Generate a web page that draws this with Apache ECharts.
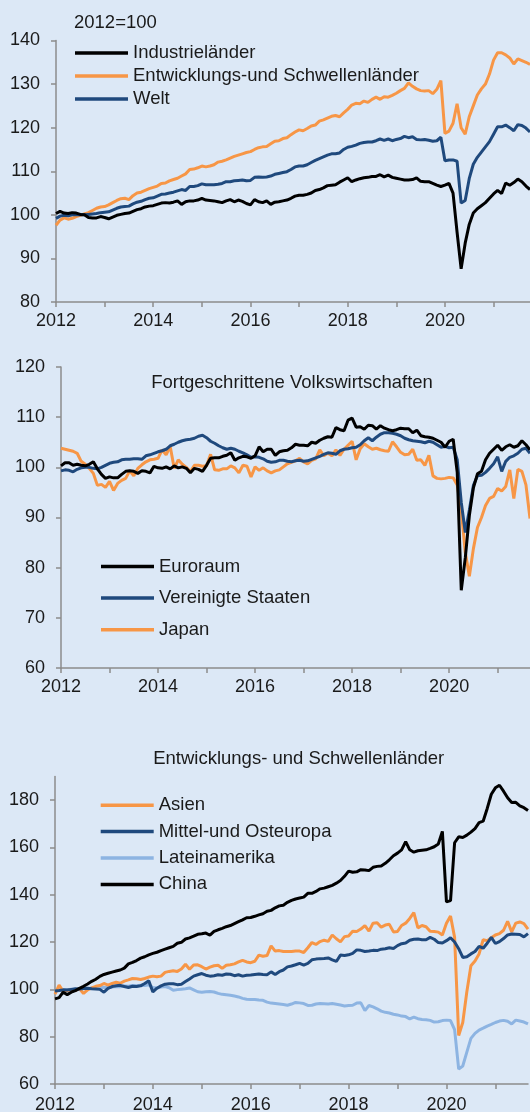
<!DOCTYPE html>
<html>
<head>
<meta charset="utf-8">
<script src="https://cdn.jsdelivr.net/npm/echarts@6.0.0/dist/echarts.min.js"></script>
<style>
  html, body { margin: 0; padding: 0; background: #dce8f6; }
  #chart { width: 530px; height: 1112px; }
</style>
</head>
<body>
<div id="chart"></div>
<script>
// Monatsachse Jan 2012 .. Okt 2021
const months = [];
for (let y = 2012; y <= 2021; y++) {
  for (let m = 1; m <= 12; m++) months.push(y + '-' + (m < 10 ? '0' + m : m));
}
const months1 = months.slice(0, 118);   // oberes Panel bis Okt 2021
const months23 = months.slice(0, 117);  // Panels 2 und 3 bis Sep 2021

// Panel 1: 2012=100
const industrie = [
  100.3,100.8,100.4,100.3,100.5,100.4,100.1,100.0,99.4,99.3,99.3,99.6,
  99.4,99.1,99.5,99.9,100.1,100.3,100.4,100.8,101.2,101.4,101.8,102.0,
  102.1,102.4,102.7,102.8,102.7,102.9,103.2,102.4,103.0,103.2,103.2,103.4,
  103.8,103.4,103.3,103.2,103.0,102.8,103.2,103.5,103.0,103.4,103.1,102.6,
  102.3,103.5,103.0,102.8,103.2,102.4,102.9,103.0,103.2,103.4,103.8,104.3,
  104.5,104.5,104.7,105.0,105.6,105.8,106.2,106.7,106.8,106.9,107.5,108.0,
  108.5,107.6,108.0,108.3,108.5,108.6,108.8,108.8,109.2,108.7,109.1,108.6,
  108.4,108.2,108.0,108.0,108.1,108.5,107.7,107.6,107.6,107.2,106.8,106.5,
  106.8,107.2,105.0,96.0,87.6,93.5,97.8,100.4,101.4,102.1,102.8,103.8,
  104.8,105.6,104.9,107.3,106.8,107.4,108.2,107.6,106.6,105.8
];
const schwellen = [
  97.6,98.8,99.3,99.0,99.2,99.6,99.9,100.2,100.5,101.0,101.5,101.8,
  101.9,102.3,102.8,103.3,103.7,103.8,103.5,104.4,105.0,105.2,105.6,106.0,
  106.3,106.6,107.2,107.3,107.8,108.1,108.4,108.9,109.4,110.4,110.5,110.8,
  111.2,111.0,111.2,111.5,112.1,112.3,112.6,113.0,113.4,113.7,114.0,114.3,
  114.5,115.0,115.4,115.6,115.7,116.3,116.9,117.0,117.5,117.7,118.4,119.0,
  119.5,119.3,119.8,120.4,120.6,121.5,121.8,122.2,122.6,122.8,122.5,123.4,
  124.2,125.2,125.6,125.5,126.1,125.8,126.5,127.0,126.5,127.1,127.0,127.4,
  127.9,128.5,129.0,130.3,129.5,128.9,128.5,128.4,128.5,127.8,128.8,130.8,
  118.7,119.2,121.0,125.5,120.0,118.5,122.5,125.0,127.5,128.9,130.0,132.3,
  135.5,137.2,137.2,136.7,136.0,134.6,135.8,135.4,135.0,134.5
];
const welt = [
  99.2,99.7,99.9,99.8,100.0,100.0,100.1,100.0,100.1,100.2,100.3,100.5,
  100.6,100.7,101.1,101.5,101.8,101.9,102.0,102.5,102.9,103.1,103.5,103.8,
  103.9,104.3,104.7,104.8,105.0,105.2,105.5,105.8,105.6,106.5,106.5,106.7,
  107.1,106.9,106.9,106.9,107.0,107.2,107.6,107.6,107.8,107.9,108.0,107.8,
  107.9,108.6,108.7,108.6,108.7,108.9,109.3,109.5,109.7,109.9,110.4,111.0,
  111.2,111.2,111.5,112.0,112.5,112.9,113.3,113.7,114.0,114.0,114.2,115.0,
  115.5,115.7,116.0,116.4,116.6,116.7,116.7,117.0,117.4,117.1,117.4,117.0,
  117.3,117.5,118.0,117.7,117.9,117.3,117.2,117.3,117.1,116.9,117.0,117.8,
  112.4,112.6,112.6,112.3,102.7,103.3,108.3,111.6,113.2,114.4,115.6,116.8,
  118.5,120.2,120.2,120.6,120.0,119.3,120.7,120.5,119.9,119.0
];

// Panel 2: Fortgeschrittene Volkswirtschaften
const euroraum = [
  100.3,100.9,100.9,100.4,100.6,100.4,100.3,100.6,101.1,99.7,98.6,97.8,
  98.1,97.9,97.9,98.6,99.2,99.3,99.2,98.8,99.3,99.2,98.9,100.2,
  99.9,99.8,100.1,99.7,100.3,99.9,100.1,99.8,98.9,99.8,99.6,99.2,
  100.4,101.8,101.9,101.9,102.2,102.4,102.9,101.4,101.9,102.2,102.1,101.8,
  102.3,104.1,103.1,103.6,103.6,102.4,103.1,103.3,103.4,103.9,104.6,104.4,
  104.4,104.3,105.0,104.8,105.4,105.8,106.1,106.0,107.9,107.5,107.3,109.4,
  109.8,108.0,108.1,107.6,108.4,108.3,107.6,108.3,107.8,107.5,107.3,107.5,
  107.8,107.7,107.7,106.9,107.4,106.3,106.1,106.0,105.8,105.4,105.0,104.0,
  105.2,105.6,99.0,75.5,82.0,90.4,95.9,98.7,99.2,101.5,102.8,103.6,
  104.4,103.4,104.1,104.5,104.0,104.3,105.3,104.5,103.5
];
const usa = [
  99.3,99.5,99.4,99.1,99.6,99.9,100.0,100.0,99.8,99.7,100.0,100.4,
  100.8,101.0,101.1,101.5,101.6,101.6,101.7,101.7,101.6,102.3,102.5,102.8,
  103.1,103.3,103.6,104.3,104.6,105.0,105.3,105.5,105.6,105.8,106.2,106.4,
  105.9,105.2,104.8,104.3,103.9,103.6,103.8,103.6,103.2,102.9,102.5,102.0,
  102.1,102.0,101.7,101.2,101.0,101.1,101.4,101.4,101.2,101.1,101.3,101.4,
  101.2,101.3,101.6,101.9,102.2,102.6,102.9,102.8,102.6,103.3,103.6,103.7,
  103.9,104.0,104.5,105.3,105.9,105.3,106.0,106.6,106.9,106.9,106.8,106.6,
  106.3,105.8,105.5,105.3,105.2,105.1,104.9,105.2,105.0,104.5,104.0,104.2,
  103.9,104.0,101.5,93.0,87.0,91.5,96.4,98.3,98.4,99.0,99.8,100.7,
  102.1,99.2,101.2,102.0,102.3,102.8,103.6,103.8,102.8
];
const japan = [
  103.8,103.6,103.4,103.2,102.8,101.2,100.6,99.8,98.8,96.4,96.6,96.0,
  97.2,95.4,96.8,97.4,97.8,99.3,98.3,99.8,100.5,101.1,101.5,101.6,
  101.8,103.5,102.5,104.2,99.8,101.5,100.6,100.0,99.1,100.4,100.4,100.2,
  100.3,102.6,99.5,99.4,99.7,99.7,100.3,99.9,98.9,100.4,100.2,98.1,
  100.1,99.4,99.9,99.3,98.9,99.3,99.5,100.1,100.7,101.0,101.3,101.8,
  101.1,100.7,101.4,101.7,103.5,102.3,102.8,102.3,103.5,102.4,103.6,104.4,
  105.2,101.5,103.7,104.7,104.1,103.6,103.8,103.5,103.3,103.2,105.1,104.1,
  103.0,102.5,102.6,103.6,101.4,101.5,100.4,102.4,98.3,97.8,97.7,97.8,
  98.0,97.9,96.5,91.5,83.0,78.3,83.8,88.0,90.0,92.4,93.8,94.2,
  95.8,95.3,96.2,99.5,93.8,99.6,99.2,96.5,89.8
];

// Panel 3: Entwicklungs- und Schwellenländer
const asien = [
  98.0,101.8,99.2,99.5,99.8,99.6,100.3,98.3,99.8,100.6,101.3,101.6,
  102.5,101.8,102.5,103.0,102.6,103.5,104.0,104.6,104.5,104.2,104.6,105.2,
  105.6,105.3,105.6,107.2,107.6,107.9,107.6,108.6,110.6,108.5,110.3,110.4,
  109.6,108.6,109.4,110.0,110.2,108.9,110.2,110.4,110.8,111.6,112.3,111.6,
  111.3,111.9,114.5,114.0,114.3,118.4,116.2,116.4,116.0,116.0,116.0,116.2,
  116.2,115.6,117.6,119.8,119.0,120.2,120.8,120.3,123.0,121.4,120.1,122.3,
  122.6,124.6,124.5,125.5,127.0,124.6,128.0,128.2,126.3,127.2,127.5,124.3,
  124.5,127.0,128.0,130.0,132.5,126.0,127.0,126.5,124.6,124.5,124.2,123.0,
  128.0,131.0,122.0,80.5,86.0,99.0,110.0,112.0,115.0,121.0,120.6,121.8,
  123.0,123.6,125.0,128.8,124.3,128.0,128.5,127.8,125.5
];
const osteuropa = [
  99.3,99.5,99.8,99.7,100.0,100.3,100.2,100.4,100.5,100.3,100.2,100.0,
  98.8,100.4,101.2,101.5,101.7,101.2,100.8,101.3,101.2,101.5,102.5,103.6,
  98.9,100.5,101.5,102.2,102.4,102.4,102.0,102.2,103.3,104.4,105.6,106.2,
  106.7,106.0,105.6,105.8,106.2,106.0,106.5,106.4,105.8,106.2,105.6,106.0,
  106.1,106.3,106.5,106.3,106.2,107.4,106.3,107.5,108.2,109.5,109.9,110.4,
  111.0,110.3,111.0,112.5,112.8,113.0,113.1,113.3,112.5,111.8,114.5,114.3,
  114.6,115.2,116.7,116.5,116.0,116.2,116.5,116.4,117.0,117.2,117.6,117.3,
  118.5,119.3,119.6,120.8,121.2,121.3,121.0,121.0,122.0,121.2,119.8,119.6,
  120.6,121.8,120.0,117.2,113.5,113.8,115.0,116.0,118.2,117.4,119.5,122.0,
  119.4,120.2,121.5,123.0,123.4,123.3,123.2,122.2,123.6
];
const lateinamerika = [
  99.4,99.7,99.6,99.9,100.1,99.9,100.2,100.4,100.3,100.6,100.5,100.8,
  100.9,100.7,101.0,101.2,101.1,101.4,101.3,101.6,101.5,101.8,101.6,101.9,
  100.8,100.6,101.0,101.2,100.7,99.6,99.9,100.1,100.3,100.6,99.8,99.0,
  98.8,99.0,99.1,98.9,98.3,97.9,97.7,97.5,97.2,96.8,96.2,95.8,
  95.7,95.7,95.5,95.4,94.6,94.2,94.0,93.8,93.6,93.3,93.8,94.5,
  94.3,94.0,93.2,93.3,93.8,94.0,93.9,93.8,94.0,93.7,93.4,93.0,
  93.2,93.3,94.2,94.3,91.0,93.2,92.6,91.8,90.8,90.3,90.0,89.5,
  89.2,88.7,88.5,87.5,88.3,87.6,87.3,87.2,86.9,86.2,86.3,86.8,
  87.0,86.8,83.0,66.3,67.6,73.5,79.3,81.4,82.8,83.6,84.5,85.2,
  86.0,86.6,86.9,86.5,85.4,87.0,86.6,86.2,85.4
];
const china = [
  96.0,96.5,98.8,97.8,98.8,99.5,100.4,101.3,102.3,103.4,104.3,105.5,
  106.3,106.8,107.3,107.8,108.2,109.0,110.8,111.4,112.2,113.2,113.8,114.6,
  115.2,115.7,116.4,117.0,117.6,118.2,119.5,119.9,121.3,121.8,122.5,123.3,
  123.5,123.8,122.9,124.5,125.2,125.8,126.5,127.0,127.8,128.6,129.4,130.3,
  130.4,130.9,131.5,132.0,133.0,133.4,134.5,135.3,135.6,136.8,137.6,138.2,
  138.6,139.0,140.6,140.6,141.4,142.5,142.8,143.4,144.0,144.9,146.0,147.8,
  150.0,149.5,149.7,150.6,150.5,150.2,151.6,152.0,152.2,153.3,154.8,156.5,
  157.6,159.0,162.5,159.0,158.0,158.6,158.8,159.0,159.6,160.3,161.5,166.8,
  137.0,137.5,162.0,164.5,164.2,165.2,166.5,168.0,170.5,171.1,176.5,182.5,
  185.2,186.3,183.8,181.0,179.0,179.1,177.6,176.8,175.6
];

const yTicks3 = [60, 80, 100, 120, 140, 160, 180];

const BLACK = '#000000';
const ORANGE = '#f79646';
const DARKBLUE = '#1f497d';
const LIGHTBLUE = '#8db4e2';
const AXIS = '#8c8c8c';
const TEXT = '#1a1a1a';
const FONT = '"Liberation Sans", Arial, sans-serif';

function xAxis(gridIndex, data, margin) {
  return {
    type: 'category', gridIndex: gridIndex, data: data, boundaryGap: false,
    axisLine: { lineStyle: { color: AXIS, width: 1.5 } },
    axisTick: { show: true, interval: 11, length: 5, lineStyle: { color: AXIS, width: 1.5 } },
    axisLabel: {
      interval: 23, margin: margin, color: TEXT, fontSize: 18, fontFamily: FONT,
      formatter: function (v) { return v.slice(0, 4); }
    },
    splitLine: { show: false }
  };
}

function yAxis(gridIndex, min, max, interval) {
  return {
    type: 'value', gridIndex: gridIndex, min: min, max: max, interval: interval,
    axisLine: { show: true, lineStyle: { color: AXIS, width: 1.5 } },
    axisTick: { show: true, length: 5, lineStyle: { color: AXIS, width: 1.5 } },
    axisLabel: { margin: 16, color: TEXT, fontSize: 18, fontFamily: FONT },
    splitLine: { show: false }
  };
}

function line(name, data, color, idx) {
  return {
    name: name, type: 'line', xAxisIndex: idx, yAxisIndex: idx, data: data,
    showSymbol: false, symbol: 'none', animation: false,
    lineStyle: { color: color, width: 3 }, itemStyle: { color: color }
  };
}

function legend(left, top, rowHeight, names) {
  return {
    orient: 'vertical', left: left, top: top, padding: 0, itemGap: 0,
    itemWidth: 53, itemHeight: 3.5, icon: 'rect', selectedMode: false,
    textStyle: { color: TEXT, fontSize: 18.5, fontFamily: FONT, lineHeight: rowHeight },
    data: names
  };
}

function label(text, x, y, align) {
  return {
    type: 'text', x: x, y: y, silent: true,
    style: {
      text: text, fill: TEXT, fontSize: 18.5, fontFamily: FONT,
      align: align, verticalAlign: 'middle', textAlign: align, textVerticalAlign: 'middle'
    }
  };
}

var y3 = yAxis(2, 60, 190, 20);
y3.axisLabel.customValues = yTicks3;
y3.axisTick.customValues = yTicks3;

var myChart = echarts.init(document.getElementById('chart'));
myChart.setOption({
  backgroundColor: '#dce8f6',
  animation: false,
  grid: [
    { left: 56, right: 0, top: 40.5, height: 261.5, containLabel: false, outerBoundsMode: 'none' },
    { left: 61, right: 0, top: 367, height: 301, containLabel: false, outerBoundsMode: 'none' },
    { left: 55, right: 2, top: 776.5, height: 307.5, containLabel: false, outerBoundsMode: 'none' }
  ],
  xAxis: [xAxis(0, months1, 10), xAxis(1, months23, 10), xAxis(2, months23, 12)],
  yAxis: [yAxis(0, 80, 140, 10), yAxis(1, 60, 120, 10), y3],
  legend: [
    legend(75, 41.5, 23, ['Industrieländer', 'Entwicklungs-und Schwellenländer', 'Welt']),
    legend(101, 550.7, 31.6, ['Euroraum', 'Vereinigte Staaten', 'Japan']),
    legend(100.7, 792, 26.4, ['Asien', 'Mittel-und Osteuropa', 'Lateinamerika', 'China'])
  ],
  graphic: [
    label('2012=100', 74, 22.6, 'left'),
    label('Fortgeschrittene Volkswirtschaften', 292, 383.3, 'center'),
    label('Entwicklungs- und Schwellenländer', 298.7, 759.3, 'center')
  ],
  series: [
    line('Entwicklungs-und Schwellenländer', schwellen, ORANGE, 0),
    line('Welt', welt, DARKBLUE, 0),
    line('Industrieländer', industrie, BLACK, 0),
    line('Japan', japan, ORANGE, 1),
    line('Vereinigte Staaten', usa, DARKBLUE, 1),
    line('Euroraum', euroraum, BLACK, 1),
    line('Lateinamerika', lateinamerika, LIGHTBLUE, 2),
    line('Asien', asien, ORANGE, 2),
    line('Mittel-und Osteuropa', osteuropa, DARKBLUE, 2),
    line('China', china, BLACK, 2)
  ]
});
</script>
</body>
</html>
